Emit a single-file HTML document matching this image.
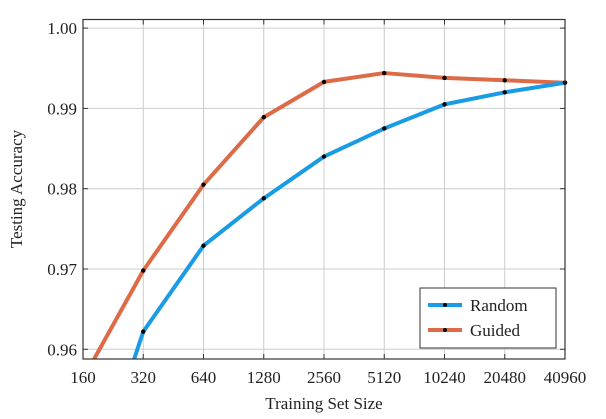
<!DOCTYPE html>
<html><head><meta charset="utf-8"><style>
html,body{margin:0;padding:0;background:#fff;overflow:hidden;width:606px;height:419px;}
svg{display:block;}
svg text{font-family:"Liberation Serif",serif;fill:#222;}
</style></head><body>
<svg width="606" height="419" id="c">
<defs><clipPath id="clip"><rect x="83" y="19.5" width="482" height="339.5"/></clipPath></defs>
<g id="grid"></g>
<g id="series" clip-path="url(#clip)"></g>
<g id="pts"></g>
<rect x="83" y="19.5" width="482" height="339.5" fill="none" stroke="#333" stroke-width="1.2"/>
<g id="ticks"></g>
<text x="324" y="409" font-size="17" text-anchor="middle">Training Set Size</text>
<text transform="translate(22,189) rotate(-90)" font-size="17" text-anchor="middle">Testing Accuracy</text>
<g>
<rect x="420" y="288" width="136" height="60" fill="#fff" stroke="#333" stroke-width="1"/>
<line x1="428" y1="305" x2="462" y2="305" stroke="#1a9be6" stroke-width="4"/>
<circle cx="445" cy="305" r="2" fill="#000"/>
<text x="470" y="311" font-size="17">Random</text>
<line x1="428" y1="330" x2="462" y2="330" stroke="#dd6b48" stroke-width="4"/>
<circle cx="445" cy="330" r="2" fill="#000"/>
<text x="470" y="336" font-size="17">Guided</text>
</g>
</svg>
<script>
const categories=[160,320,640,1280,2560,5120,10240,20480,40960];
const xTickLabels=["160","320","640","1280","2560","5120","10240","20480","40960"];
const randomValues=[0.9395,0.9622,0.9729,0.9788,0.9840,0.9875,0.9905,0.9920,0.9932];
const guidedValues=[0.9563,0.9698,0.9805,0.9889,0.9933,0.9944,0.9938,0.9935,0.9932];
const yTicks=[0.96,0.97,0.98,0.99,1.00];
const yTickLabels=["0.96","0.97","0.98","0.99","1.00"];
const NS="http://www.w3.org/2000/svg";
function xs(v){return 83+60.25*Math.log2(v/160);}
function ys(v){return 349.3-(v-0.96)*8030;}
function mk(tag,attrs,parent){const e=document.createElementNS(NS,tag);for(const k in attrs)e.setAttribute(k,attrs[k]);document.getElementById(parent).appendChild(e);return e;}
categories.forEach((c,i)=>{
  const x=xs(c);
  if(i>0&&i<categories.length-1){const g=mk('line',{x1:x,x2:x,y1:19.5,y2:359,stroke:'#ccc','stroke-width':1},'grid');
  
  }
  mk('line',{x1:x,x2:x,y1:359,y2:354,stroke:'#333'},'ticks');
  mk('line',{x1:x,x2:x,y1:19.5,y2:24.5,stroke:'#333'},'ticks');
  const t=mk('text',{x:x,y:383,'font-size':17,'text-anchor':'middle'},'ticks');t.textContent=xTickLabels[i];
  
  
});
yTicks.forEach((v,i)=>{
  const y=ys(v);
  const g=mk('line',{x1:83,x2:565,y1:y,y2:y,stroke:'#ccc','stroke-width':1},'grid');
  
  
  mk('line',{x1:83,x2:88,y1:y,y2:y,stroke:'#333'},'ticks');
  mk('line',{x1:560,x2:565,y1:y,y2:y,stroke:'#333'},'ticks');
  const t=mk('text',{x:77,y:y+6,'font-size':17,'text-anchor':'end'},'ticks');t.textContent=yTickLabels[i];
  
  
});
function series(vals,color,name){
  const d=vals.map((v,i)=>(i?'L':'M')+xs(categories[i])+','+ys(v)).join(' ');
  const p=mk('path',{d:d,fill:'none',stroke:color,'stroke-width':4,'stroke-linejoin':'round'},'series');
  
  
  vals.forEach((v,i)=>{const y=ys(v);if(y>359||y<19)return;
    const c=mk('circle',{cx:xs(categories[i]),cy:y,r:2.2,fill:'#000'},'pts');
    
    });
}
series(guidedValues,'#dd6b48','guided');
series(randomValues,'#1a9be6','random');
</script>
</body></html>
